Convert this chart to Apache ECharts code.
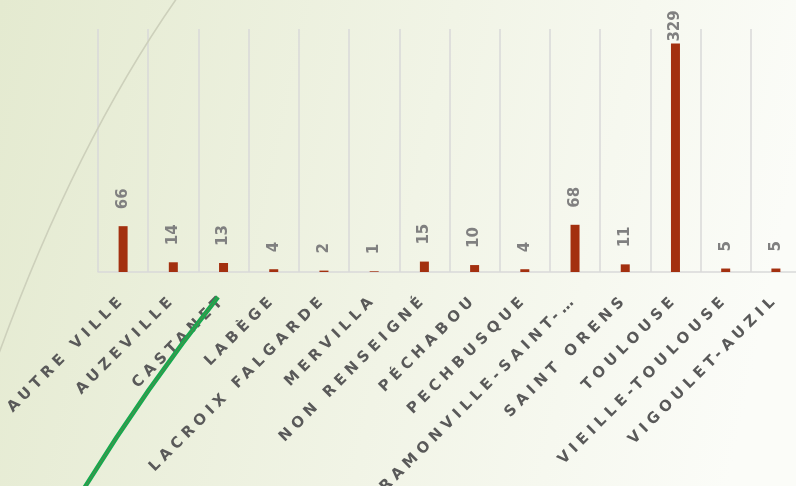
<!DOCTYPE html>
<html>
<head>
<meta charset="utf-8">
<script src="https://cdn.jsdelivr.net/npm/echarts@6/dist/echarts.min.js"></script>
<style>
html,body{margin:0;padding:0;background:#f3f6ea;}
#chart{width:796px;height:486px;}
</style>
</head>
<body>
<div id="chart"></div>
<script>
// Data
const categories = ['AUTRE VILLE','AUZEVILLE','CASTANET','LABÈGE','LACROIX FALGARDE','MERVILLA','NON RENSEIGNÉ','PÉCHABOU','PECHBUSQUE','RAMONVILLE-SAINT-…','SAINT ORENS','TOULOUSE','VIEILLE-TOULOUSE','VIGOULET-AUZIL'];
const values = [66, 14, 13, 4, 2, 1, 15, 10, 4, 68, 11, 329, 5, 5];
const yMax = 350;

// letter spacing for category labels (font weight 600 used as marker)
(function(){
  const d = Object.getOwnPropertyDescriptor(CanvasRenderingContext2D.prototype, 'font');
  Object.defineProperty(CanvasRenderingContext2D.prototype, 'font', {
    configurable: true,
    get(){ return d.get.call(this); },
    set(v){ d.set.call(this, v); try { this.letterSpacing = /(^|\s)600\s/.test(v) ? '4.8px' : '0px'; } catch(e){} }
  });
})();

const chart = echarts.init(document.getElementById('chart'), null, {renderer:'canvas'});
const seriesData = values.map((v, i) => {
  const item = {value: v};
  if (v === Math.max(...values)) item.label = {distance: 1};
  return item;
});
chart.setOption({
  animation: false,
  backgroundColor: {
    type: 'linear', x: 0, y: 0, x2: 1, y2: 0.35,
    colorStops: [{offset: 0, color: '#e4ead0'}, {offset: 0.55, color: '#f1f4e6'}, {offset: 1, color: '#fbfcf8'}]
  },
  grid: {left: 98, right: -5, top: 29, bottom: 214, containLabel: false, outerBoundsMode: 'none'},
  xAxis: {
    type: 'category',
    data: categories,
    axisLine: {show: true, lineStyle: {color: '#d9d9d9', width: 1.5}},
    axisTick: {show: false},
    splitLine: {show: true, lineStyle: {color: '#d9d9d9', width: 1.5}},
    axisLabel: {
      interval: 0, rotate: 45, margin: 25,
      verticalAlign: 'middle', padding: [10, 0, 0, 0],
      fontFamily: 'DejaVu Sans', fontWeight: 600, fontSize: 15, color: '#595959'
    }
  },
  yAxis: {
    type: 'value', min: 0, max: yMax,
    axisLine: {show: false}, axisTick: {show: false}, axisLabel: {show: false}, splitLine: {show: false}
  },
  series: [{
    type: 'bar',
    data: seriesData,
    barWidth: 9,
    itemStyle: {color: '#a3300f'},
    label: {
      show: true, position: 'top', distance: 16, rotate: 90,
      align: 'left', verticalAlign: 'middle', offset: [1, 0],
      fontFamily: 'DejaVu Sans', fontWeight: 'bold', fontSize: 15, color: '#808080'
    },
    z: 2
  }],
  graphic: [
    {
      type: 'bezierCurve', z: 100, silent: true,
      shape: {x1: 177, y1: -2, cpx1: 75, cpy1: 144, x2: -2, y2: 356},
      style: {stroke: '#cdd0bb', lineWidth: 1.6, fill: null}
    },
    {
      type: 'bezierCurve', z: 101, silent: true,
      shape: {x1: 218, y1: 297, cpx1: 143, cpy1: 392, x2: 80, y2: 495},
      style: {stroke: '#17a84e', lineWidth: 4.5, fill: null}
    },
    {
      type: 'bezierCurve', z: 102, silent: true,
      shape: {x1: 218, y1: 297, cpx1: 143, cpy1: 392, x2: 80, y2: 495},
      style: {stroke: '#8a6a4a', lineWidth: 0.8, fill: null, opacity: 0.7}
    }
  ]
});
</script>
</body>
</html>
